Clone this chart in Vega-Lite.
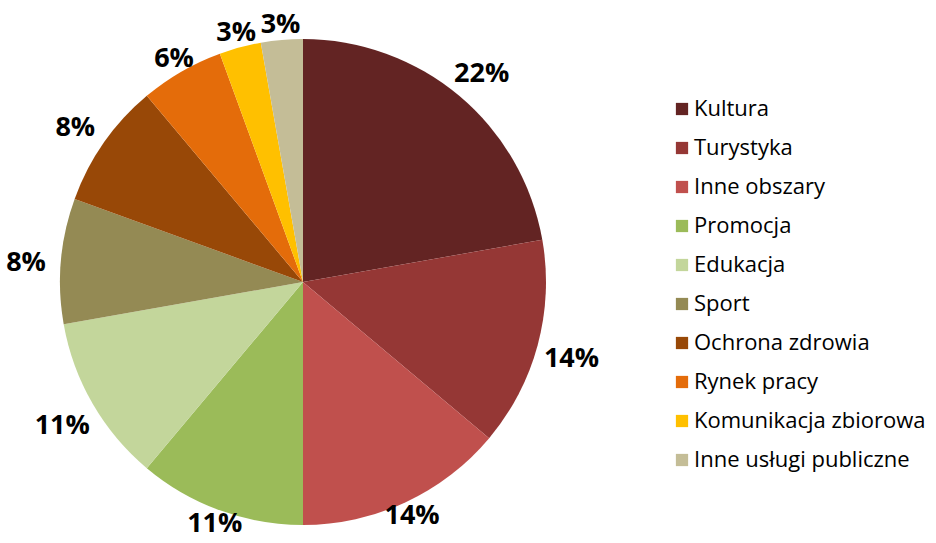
{
  "$schema": "https://vega.github.io/schema/vega-lite/v6.json",
  "autosize": {"type": "none"},
  "width": 606,
  "height": 520,
  "padding": {"left": 0, "top": 22, "right": 330, "bottom": 1},
  "background": "white",
  "data": {
    "values": [
      {"kategoria": "Kultura", "liczba": 8, "etykieta": "22%", "kolejnosc": 1},
      {"kategoria": "Turystyka", "liczba": 5, "etykieta": "14%", "kolejnosc": 2},
      {"kategoria": "Inne obszary", "liczba": 5, "etykieta": "14%", "kolejnosc": 3},
      {"kategoria": "Promocja", "liczba": 4, "etykieta": "11%", "kolejnosc": 4},
      {"kategoria": "Edukacja", "liczba": 4, "etykieta": "11%", "kolejnosc": 5},
      {"kategoria": "Sport", "liczba": 3, "etykieta": "8%", "kolejnosc": 6},
      {"kategoria": "Ochrona zdrowia", "liczba": 3, "etykieta": "8%", "kolejnosc": 7},
      {"kategoria": "Rynek pracy", "liczba": 2, "etykieta": "6%", "kolejnosc": 8},
      {"kategoria": "Komunikacja zbiorowa", "liczba": 1, "etykieta": "3%", "kolejnosc": 9},
      {"kategoria": "Inne usługi publiczne", "liczba": 1, "etykieta": "3%", "kolejnosc": 10}
    ]
  },
  "encoding": {
    "theta": {"field": "liczba", "type": "quantitative", "stack": true},
    "order": {"field": "kolejnosc", "type": "quantitative", "sort": "ascending"}
  },
  "layer": [
    {
      "mark": {"type": "arc", "outerRadius": 243},
      "encoding": {
        "color": {
          "field": "kategoria",
          "type": "nominal",
          "scale": {
            "domain": ["Kultura", "Turystyka", "Inne obszary", "Promocja", "Edukacja", "Sport", "Ochrona zdrowia", "Rynek pracy", "Komunikacja zbiorowa", "Inne usługi publiczne"],
            "range": ["#632423", "#953735", "#C0504D", "#9BBB59", "#C3D69B", "#948A54", "#984807", "#E46C0A", "#FFC000", "#C4BD97"]
          },
          "legend": {
            "title": null,
            "orient": "none",
            "legendX": 671,
            "legendY": 76,
            "symbolType": "square",
            "symbolSize": 150,
            "symbolStrokeWidth": 0,
            "labelFont": "Open Sans",
            "labelFontSize": 22,
            "labelColor": "#000000",
            "labelOffset": 1,
            "rowPadding": 17,
            "labelLimit": 400
          }
        }
      }
    },
    {
      "mark": {"type": "text", "radius": 258, "dy": 0, "font": "Open Sans", "fontSize": 27, "fontWeight": "bold", "color": "#000000", "align": "center", "baseline": "middle"},
      "encoding": {
        "text": {"field": "etykieta", "type": "nominal"},
        "opacity": {
          "condition": {"test": "indexof([3, 4, 8, 9, 10], datum.kolejnosc) >= 0", "value": 1},
          "value": 0
        }
      }
    },
    {
      "mark": {"type": "text", "radius": 278, "dy": 5, "font": "Open Sans", "fontSize": 27, "fontWeight": "bold", "color": "#000000", "align": "center", "baseline": "middle"},
      "encoding": {
        "text": {"field": "etykieta", "type": "nominal"},
        "opacity": {
          "condition": {"test": "indexof([1, 2, 5, 6, 7], datum.kolejnosc) >= 0", "value": 1},
          "value": 0
        }
      }
    }
  ]
}
